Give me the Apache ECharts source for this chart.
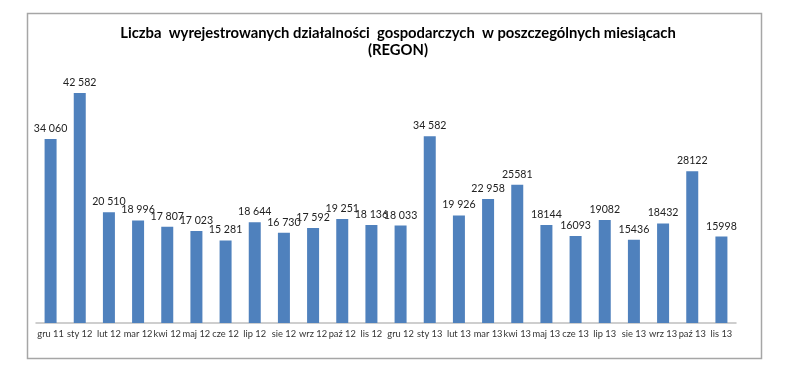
<!DOCTYPE html>
<html><head><meta charset="utf-8">
<script src="https://cdn.jsdelivr.net/npm/echarts@6/dist/echarts.min.js"></script>
<style>html,body{margin:0;padding:0;background:#fff}#c{width:788px;height:375px}</style>
</head><body><div id="c"></div>
<script>
const categories = ["gru 11","sty 12","lut 12","mar 12","kwi 12","maj 12","cze 12","lip 12","sie 12","wrz 12","paź 12","lis 12","gru 12","sty 13","lut 13","mar 13","kwi 13","maj 13","cze 13","lip 13","sie 13","wrz 13","paź 13","lis 13"];
const values = [34060,42582,20510,18996,17807,17023,15281,18644,16730,17592,19251,18136,18033,34582,19926,22958,25581,18144,16093,19082,15436,18432,28122,15998];
const valueLabels = ["34 060","42 582","20 510","18 996","17 807","17 023","15 281","18 644","16 730","17 592","19 251","18 136","18 033","34 582","19 926","22 958","25581","18144","16093","19082","15436","18432","28122","15998"];
const titleLines = ["Liczba  wyrejestrowanych działalności  gospodarczych  w poszczególnych miesiącach", "(REGON)"];

const chart = echarts.init(document.getElementById('c'), null, {renderer:'canvas'});
const FONT = 'Lato, "Open Sans", sans-serif';
chart.setOption({
  animation:false,
  backgroundColor:'#fff',
  graphic:[{type:'rect', shape:{x:27.5,y:13.5,width:734,height:345}, style:{fill:'none', stroke:'#a6a6a6', lineWidth:1.5}, z:-1}],
  title:{
    text:titleLines.join('\n'),
    left:393, top:20, textAlign:'center',
    textStyle:{fontFamily:FONT, fontSize:14.8, fontWeight:'bold', color:'#000', lineHeight:17}
  },
  grid:{left:36, right:52, top:53, bottom:52, containLabel:false},
  xAxis:{
    type:'category', data:categories,
    axisLine:{lineStyle:{color:'#bfbfbf', width:1.5}},
    axisTick:{show:false},
    axisLabel:{interval:0, margin:6, fontFamily:FONT, fontSize:9.3, color:'#333', hideOverlap:false}
  },
  yAxis:{type:'value', min:0, max:50000, show:false, splitLine:{show:false}},
  series:[{
    type:'bar', data:values, barWidth:12,
    itemStyle:{color:'#4f81bd'},
    label:{show:true, position:'top', distance:5, fontFamily:FONT, fontSize:10.6, color:'#222',
      formatter:p=>valueLabels[p.dataIndex]}
  }]
});
</script></body></html>
